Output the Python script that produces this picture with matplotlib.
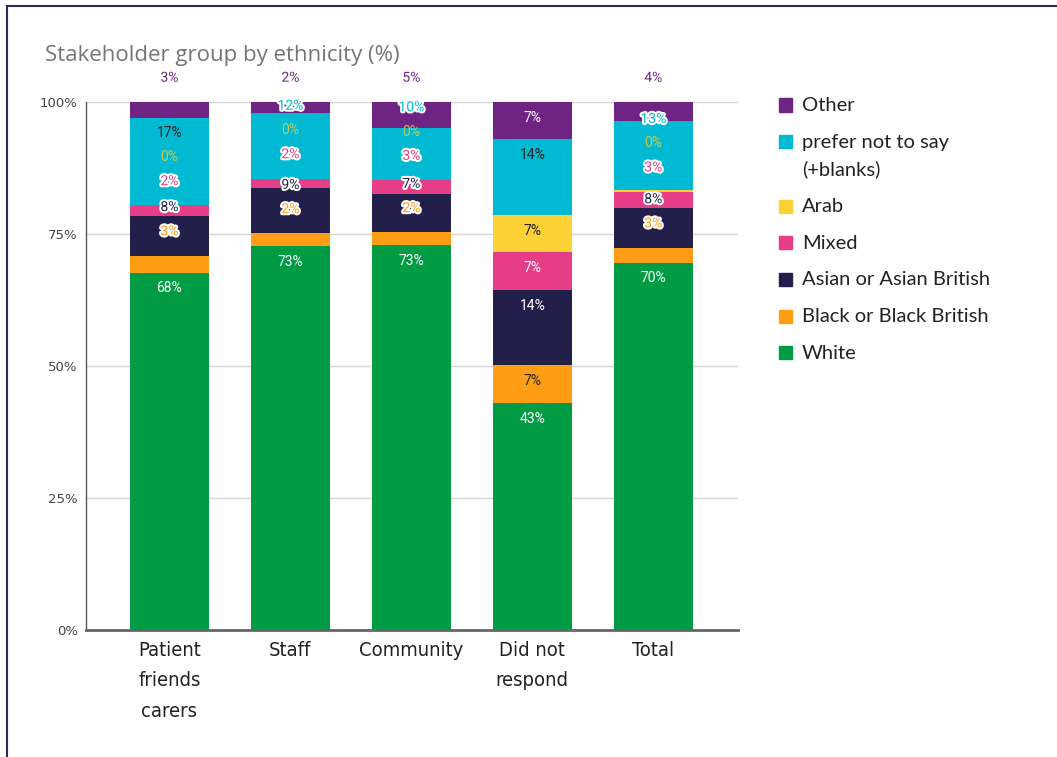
import matplotlib.pyplot as plt
import matplotlib.patheffects as pe
from matplotlib.patches import Rectangle
import numpy as np

# stakeholder groups (x axis)
groups = ['Patient\nfriends\ncarers', 'Staff', 'Community', 'Did not\nrespond', 'Total']

# share of each ethnicity per group (%), stacked bottom to top
white = [67.7, 72.7, 72.9, 43.0, 69.6]
black = [3.2, 2.4, 2.4, 7.1, 2.8]
asian = [7.6, 8.7, 7.2, 14.3, 7.6]
mixed = [1.9, 1.7, 2.7, 7.1, 3.0]
arab = [0, 0, 0, 7.1, 0.4]
prefer = [16.6, 12.4, 9.9, 14.3, 13.0]
other = [3.0, 2.1, 4.9, 7.1, 3.6]

series_names = ['White', 'Black or Black British', 'Asian or Asian British', 'Mixed',
                'Arab', 'prefer not to say\n(+blanks)', 'Other']
series_vals = [white, black, asian, mixed, arab, prefer, other]
colors = ['#009b43', '#ff9e15', '#22204b', '#e53e86', '#fdd236', '#00b9d2', '#6f2383']
inside_text = ['white', '#222222', 'white', 'white', '#222222', '#222222', 'white']

yticks = [0, 25, 50, 75, 100]
ytick_labels = ['0%', '25%', '50%', '75%', '100%']

W, H = 1057, 757
fig = plt.figure(figsize=(W / 100, H / 100), dpi=100)
ax = fig.add_axes([86 / W, 1 - 630 / H, (738 - 86) / W, (630 - 102) / H])

x = np.arange(len(groups))
bar_w = 0.653
bottom = np.zeros(len(groups))
for vals, c in zip(series_vals, colors):
    ax.bar(x, vals, bar_w, bottom=bottom, color=c, zorder=2)
    bottom += np.array(vals)

# data labels: top of segment if it fits, else pushed up with a halo
gap = 4.6
for j in range(len(groups)):
    base = 0.0
    prev = -100.0
    for i, vals in enumerate(series_vals):
        v = vals[j]
        top = base + v
        fits = v >= 5
        y = top - 3.0 if fits else top + gap
        y = max(y, prev + gap)
        inside = fits and (base + 1.5 <= y <= top - 1.5)
        txt = f'{round(v)}%'
        if inside:
            ax.text(x[j], y, txt, ha='center', va='center', fontsize=10,
                    family='Roboto', color=inside_text[i], zorder=4)
        elif round(v) == 0:
            ax.text(x[j], y, txt, ha='center', va='center', fontsize=10,
                    family='Roboto', color=colors[i], alpha=0.75, zorder=4)
        else:
            ax.text(x[j], y, txt, ha='center', va='center', fontsize=10,
                    family='Roboto', color=colors[i], zorder=4,
                    path_effects=[pe.withStroke(linewidth=3, foreground='white')])
        prev = y
        base = top

ax.set_xlim(-0.69, 4.70)
ax.set_ylim(0, 100)
ax.set_yticks(yticks)
ax.set_yticklabels(ytick_labels, fontsize=9.5, color='#444444', family='DejaVu Sans')
ax.set_xticks(x)
ax.set_xticklabels(groups, fontsize=14.5, color='#222222', linespacing=1.75,
                   family='DejaVu Sans', fontstretch='condensed')
ax.tick_params(axis='both', length=0)
ax.tick_params(axis='x', pad=8)
ax.tick_params(axis='y', pad=6)
ax.grid(axis='y', color='#d6d6d6', linewidth=1, zorder=0)
for s in ['top', 'right']:
    ax.spines[s].set_visible(False)
ax.spines['left'].set_color('#555555')
ax.spines['left'].set_linewidth(1)
ax.spines['bottom'].set_color('#666666')
ax.spines['bottom'].set_linewidth(2)
ax.spines['bottom'].set_zorder(3)

fig.text(45 / W, 1 - 45 / H, 'Stakeholder group by ethnicity (%)', fontsize=16,
         family='Open Sans', color='#757575', ha='left', va='top')

# legend drawn by hand so the square sits on the first line
ly = 105
for name, c in zip(series_names[::-1], colors[::-1]):
    fig.patches.append(Rectangle((779 / W, 1 - (ly + 6.5) / H), 13 / W, 13 / H,
                                 transform=fig.transFigure, color=c))
    fig.text(802 / W, 1 - (ly - 8) / H, name, fontsize=14.5, family='Lato',
             color='#222222', ha='left', va='top', linespacing=1.65)
    ly += 36.6 + 28 * name.count('\n')

# outer frame
fig.patches.append(Rectangle((7 / W, -0.1), 2, 1.1 - 6 / H, transform=fig.transFigure,
                             fill=False, edgecolor='#2a2a55', linewidth=1.5))

fig.savefig('out.png', dpi=100)
